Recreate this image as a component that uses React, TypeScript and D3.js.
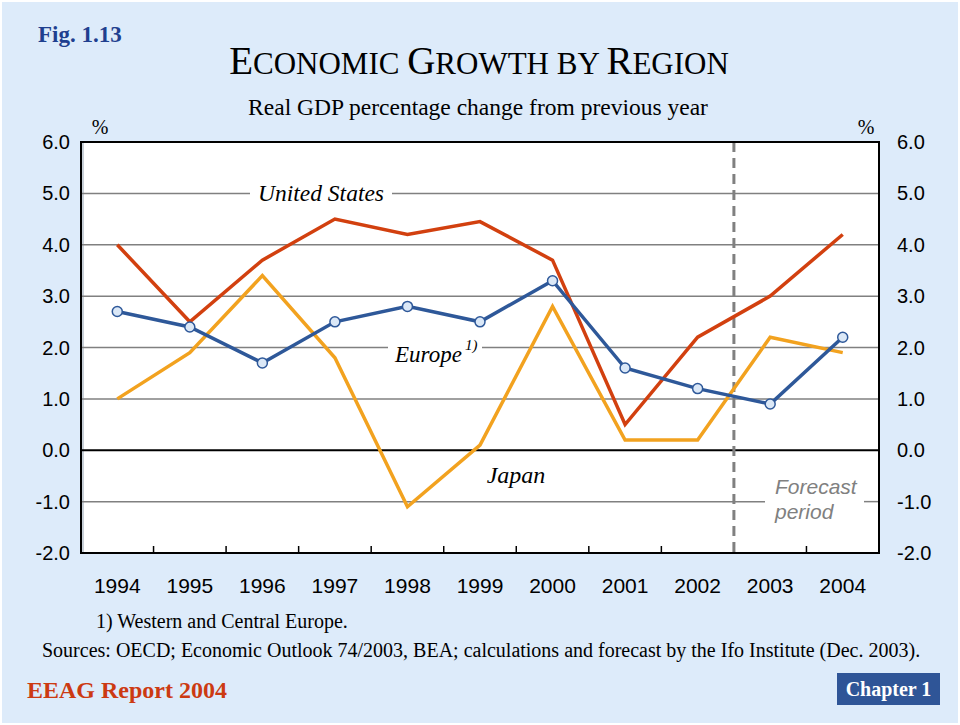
import React from "react";
import * as d3 from "d3";

const years = ["1994","1995","1996","1997","1998","1999","2000","2001","2002","2003","2004"];
const usValues = [4.0, 2.5, 3.7, 4.5, 4.2, 4.45, 3.7, 0.5, 2.2, 3.0, 4.2];
const europeValues = [2.7, 2.4, 1.7, 2.5, 2.8, 2.5, 3.3, 1.6, 1.2, 0.9, 2.2];
const japanValues = [1.0, 1.9, 3.4, 1.8, -1.1, 0.1, 2.8, 0.2, 0.2, 2.2, 1.9];
const yTicks = [6, 5, 4, 3, 2, 1, 0, -1, -2];
const forecastStart = "2003";

const W = 960, H = 725;
const L = 81, R = 879, T = 142, B = 553;

export default function App() {
  const x = d3.scaleBand<string>().domain(years).range([L, R]);
  const cx = (yr: string) => (x(yr) as number) + x.bandwidth() / 2;
  const y = d3.scaleLinear().domain([-2, 6]).range([B, T]);
  const line = d3.line<number>().x((_, i) => cx(years[i])).y((v) => y(v));
  const fX = x(forecastStart) as number;

  const serif = "'Times New Roman', 'Liberation Serif', serif";
  const sans = "Arial, 'Liberation Sans', sans-serif";

  const gaps: Record<number, [number, number][]> = {
    5: [[250, 392]],
    2: [[388, 482]],
    [-1]: [[765, 864]],
  };

  const gridSegs = (v: number) => {
    const g = gaps[v] || [];
    const segs: [number, number][] = [];
    let s = L;
    g.forEach(([a, b]) => { segs.push([s, a]); s = b; });
    segs.push([s, R]);
    return segs;
  };

  return (
    <svg width={W} height={H} style={{ position: "absolute", left: 0, top: 0 }}>
      <rect x={0} y={0} width={W} height={H} fill="#ffffff" />
      <rect x={2} y={2} width={W - 4} height={H - 4} fill="#ddebfa" />
      <text x={38} y={42} fontFamily={serif} fontWeight="bold" fontSize={23} fill="#1f3f8f">Fig. 1.13</text>
      <text x={479} y={74} textAnchor="middle" fontFamily={serif} fontSize={31} fill="#000">
        <tspan fontSize={39}>E</tspan>CONOMIC <tspan fontSize={39}>G</tspan>ROWTH BY <tspan fontSize={39}>R</tspan>EGION
      </text>
      <text x={478} y={115} textAnchor="middle" fontFamily={serif} fontSize={23.5} fill="#000">Real GDP percentage change from previous year</text>
      <text x={100} y={134} textAnchor="middle" fontFamily={serif} fontSize={20} fill="#000">%</text>
      <text x={866} y={134} textAnchor="middle" fontFamily={serif} fontSize={20} fill="#000">%</text>

      <rect x={L} y={T} width={R - L} height={B - T} fill="#ffffff" />
      <rect x={L} y={T} width={3} height={B - T} fill="#c8d0d8" />

      {yTicks.filter((v) => v !== 6 && v !== -2).map((v) =>
        gridSegs(v).map(([a, b], i) => (
          <line key={`${v}-${i}`} x1={a} x2={b} y1={y(v)} y2={y(v)}
            stroke={v === 0 ? "#000" : "#808080"} strokeWidth={v === 0 ? 2 : 1.5} />
        ))
      )}

      {years.slice(1).map((yr) => (
        <line key={yr} x1={x(yr)} x2={x(yr)} y1={B} y2={B - 7} stroke="#000" strokeWidth={1.5} />
      ))}

      <line x1={fX} x2={fX} y1={T} y2={B} stroke="#808080" strokeWidth={3} strokeDasharray="10,6" />

      <rect x={L} y={T} width={R - L} height={B - T} fill="none" stroke="#000" strokeWidth={2} />

      {yTicks.map((v) => (
        <g key={v}>
          <text x={70} y={y(v) + 7} textAnchor="end" fontFamily={sans} fontSize={20} fill="#000">{v.toFixed(1)}</text>
          <text x={897} y={y(v) + 7} textAnchor="start" fontFamily={sans} fontSize={20} fill="#000">{v.toFixed(1)}</text>
        </g>
      ))}

      {years.map((yr) => (
        <text key={yr} x={cx(yr)} y={593} textAnchor="middle" fontFamily={sans} fontSize={21} fill="#000">{yr}</text>
      ))}

      <path d={line(japanValues) || ""} fill="none" stroke="#f2a21f" strokeWidth={3.5} />
      <path d={line(usValues) || ""} fill="none" stroke="#d2400f" strokeWidth={3.5} />
      <path d={line(europeValues) || ""} fill="none" stroke="#2e5899" strokeWidth={3.5} />
      {europeValues.map((v, i) => (
        <circle key={i} cx={cx(years[i])} cy={y(v)} r={5} fill="#dbe8f7" stroke="#2e5899" strokeWidth={1.5} />
      ))}

      <text x={321} y={201} textAnchor="middle" fontFamily={serif} fontStyle="italic" fontSize={23.5} fill="#000">United States</text>
      <text x={395} y={362} fontFamily={serif} fontStyle="italic" fontSize={23} fill="#000">Europe</text>
      <text x={465} y={350} fontFamily={serif} fontStyle="italic" fontSize={15} fill="#000">1)</text>
      <text x={516} y={483} textAnchor="middle" fontFamily={serif} fontStyle="italic" fontSize={24} fill="#000">Japan</text>
      <text x={775} y={494} fontFamily={sans} fontStyle="italic" fontSize={21} fill="#808080">Forecast</text>
      <text x={775} y={519} fontFamily={sans} fontStyle="italic" fontSize={21} fill="#808080">period</text>

      <text x={96} y={628} fontFamily={serif} fontSize={20} fill="#000">1) Western and Central Europe.</text>
      <text x={42} y={657} fontFamily={serif} fontSize={20} fill="#000">Sources: OECD; Economic Outlook 74/2003, BEA; calculations and forecast by the Ifo Institute (Dec. 2003).</text>

      <text x={27} y={698} fontFamily={serif} fontWeight="bold" fontSize={24} fill="#cc3a12">EEAG Report 2004</text>
      <rect x={837} y={673} width={103} height={32} fill="#2f5597" />
      <text x={888.5} y={696} textAnchor="middle" fontFamily={serif} fontWeight="bold" fontSize={20} fill="#ffffff">Chapter 1</text>
    </svg>
  );
}
